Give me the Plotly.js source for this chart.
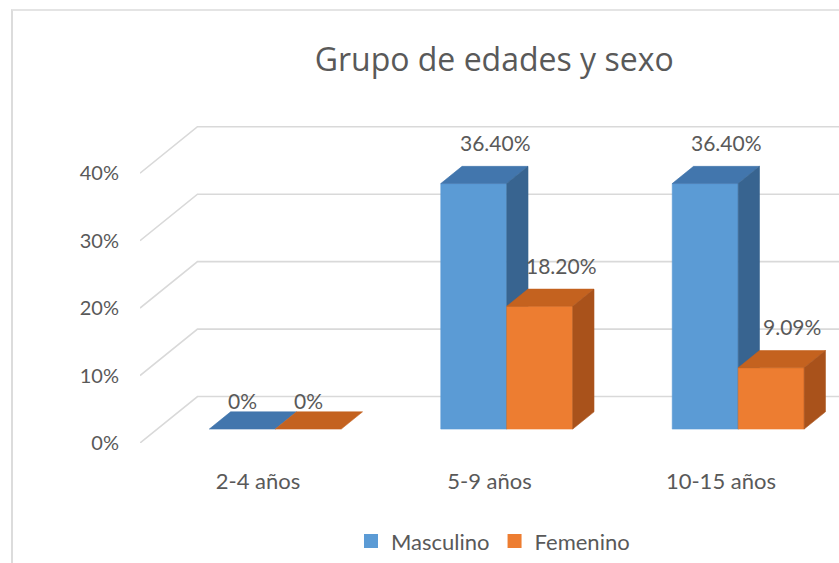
<!DOCTYPE html>
<html>
<head>
<meta charset="utf-8">
<script src="https://cdn.plot.ly/plotly-3.0.1.min.js"></script>
<style>
  html, body { margin: 0; padding: 0; background: #ffffff; }
  #chart { width: 839px; height: 563px; position: absolute; left: 0; top: 0; }
  #frame { position: absolute; left: 11px; top: 9px; width: 840px; height: 560px;
           border-left: 2px solid #dcdcdc; border-top: 2px solid #e4e4e4; pointer-events: none; }
</style>
</head>
<body>
<div id="chart"></div>
<div id="frame"></div>
<script>
// ---- data ----
const categories = ['2-4 años', '5-9 años', '10-15 años'];
const masculino = [0, 36.4, 36.4];
const femenino = [0, 18.2, 9.09];
const seriesNames = ['Masculino', 'Femenino'];
const yTickValues = [0, 10, 20, 30, 40];
const chartTitle = 'Grupo de edades y sexo';

// ---- style ----
const frontColors = ['#5b9bd5', '#ed7d31'];
const topColors = ['#4276ad', '#c4621f'];
const sideColors = ['#386490', '#a9521b'];
const textColor = '#595959';
const gridColor = '#d9d9d9';
const FONT = 'Lato, "Open Sans", sans-serif';
const TITLE_FONT = '"Open Sans", Lato, sans-serif';

// pseudo-3D projection parameters (in axis units)
const X0 = -0.51, X1 = 2.51;
const depthX = 0.2484;   // x shift from front plane to back wall
const depthY = 6.89;     // y shift from front plane to back wall
const barDepthStart = 0.30;
const barDepth = 0.37;
const barWidth = 0.285;

const traces = [];

// gridlines: side wall diagonal + back wall horizontal
yTickValues.forEach(v => {
  traces.push({
    type: 'scatter', mode: 'lines', hoverinfo: 'skip', showlegend: false,
    x: [X0, X0 + depthX, X1],
    y: [v, v + depthY, v + depthY],
    line: { color: gridColor, width: 1.6 }
  });
});

const seriesValues = [masculino, femenino];
const labelAnn = [];

categories.forEach((cat, i) => {
  seriesValues.forEach((vals, s) => {
    const v = vals[i];
    const xL = i + barDepthStart * depthX - barWidth + s * barWidth;
    const xR = xL + barWidth;
    const yb = barDepthStart * depthY;
    const yt = yb + v;
    const dx = barDepth * depthX, dy = barDepth * depthY;
    const poly = (xs, ys, col, nm) => traces.push({
      type: 'scatter', mode: 'lines', fill: 'toself', fillcolor: col,
      line: { color: col, width: 0.6 }, showlegend: false,
      name: nm, hoverinfo: 'skip',
      x: xs, y: ys
    });
    // front face
    if (v > 0) poly([xL, xR, xR, xL, xL], [yb, yb, yt, yt, yb], frontColors[s], seriesNames[s]);
    // top face
    poly([xL, xR, xR + dx, xL + dx, xL], [yt, yt, yt + dy, yt + dy, yt], topColors[s], seriesNames[s]);
    // side face
    if (v > 0) poly([xR, xR + dx, xR + dx, xR, xR], [yb, yb + dy, yt + dy, yt, yb], sideColors[s], seriesNames[s]);
    // data label
    labelAnn.push({
      x: (xL + xR) / 2 + (v === 0 ? 0 : dx), y: yt + dy, xref: 'x', yref: 'y',
      text: v === 0 ? '0%' : v.toFixed(2) + '%',
      showarrow: false, yanchor: 'middle', yshift: v === 0 ? 11 : 24,
      font: { family: FONT, size: 21, color: textColor }
    });
  });
});

// legend entries
seriesNames.forEach((nm, s) => {
  traces.push({
    type: 'scatter', mode: 'markers', name: nm, x: [null], y: [null],
    marker: { symbol: 'square', size: 14, color: frontColors[s] }
  });
});

const layout = {
  width: 839, height: 563,
  margin: { l: 140, r: 0, t: 126, b: 120 },
  paper_bgcolor: '#ffffff', plot_bgcolor: 'rgba(0,0,0,0)',
  title: {
    text: chartTitle, x: 0.589, xanchor: 'center', y: 0.893, yanchor: 'middle',
    font: { family: TITLE_FONT, size: 32, color: textColor }
  },
  xaxis: {
    range: [X0, X1], tickvals: [0, 1, 2], ticktext: categories,
    showgrid: false, zeroline: false, showline: false, ticks: '',
    ticklabelstandoff: 23,
    tickfont: { family: FONT, size: 22, color: textColor }, fixedrange: true
  },
  yaxis: {
    range: [0, 47], tickvals: yTickValues, ticktext: yTickValues.map(v => v + '%'),
    showgrid: false, zeroline: false, showline: false, ticks: '',
    ticklabelstandoff: 20,
    tickfont: { family: FONT, size: 20, color: textColor }, fixedrange: true
  },
  showlegend: true,
  legend: {
    orientation: 'h', x: 0.505, xanchor: 'center', y: -0.31, yanchor: 'middle',
    font: { family: FONT, size: 22, color: textColor }, itemclick: false, itemdoubleclick: false
  },
  annotations: labelAnn
};

Plotly.newPlot('chart', traces, layout, { displayModeBar: false, staticPlot: true });
</script>
</body>
</html>
